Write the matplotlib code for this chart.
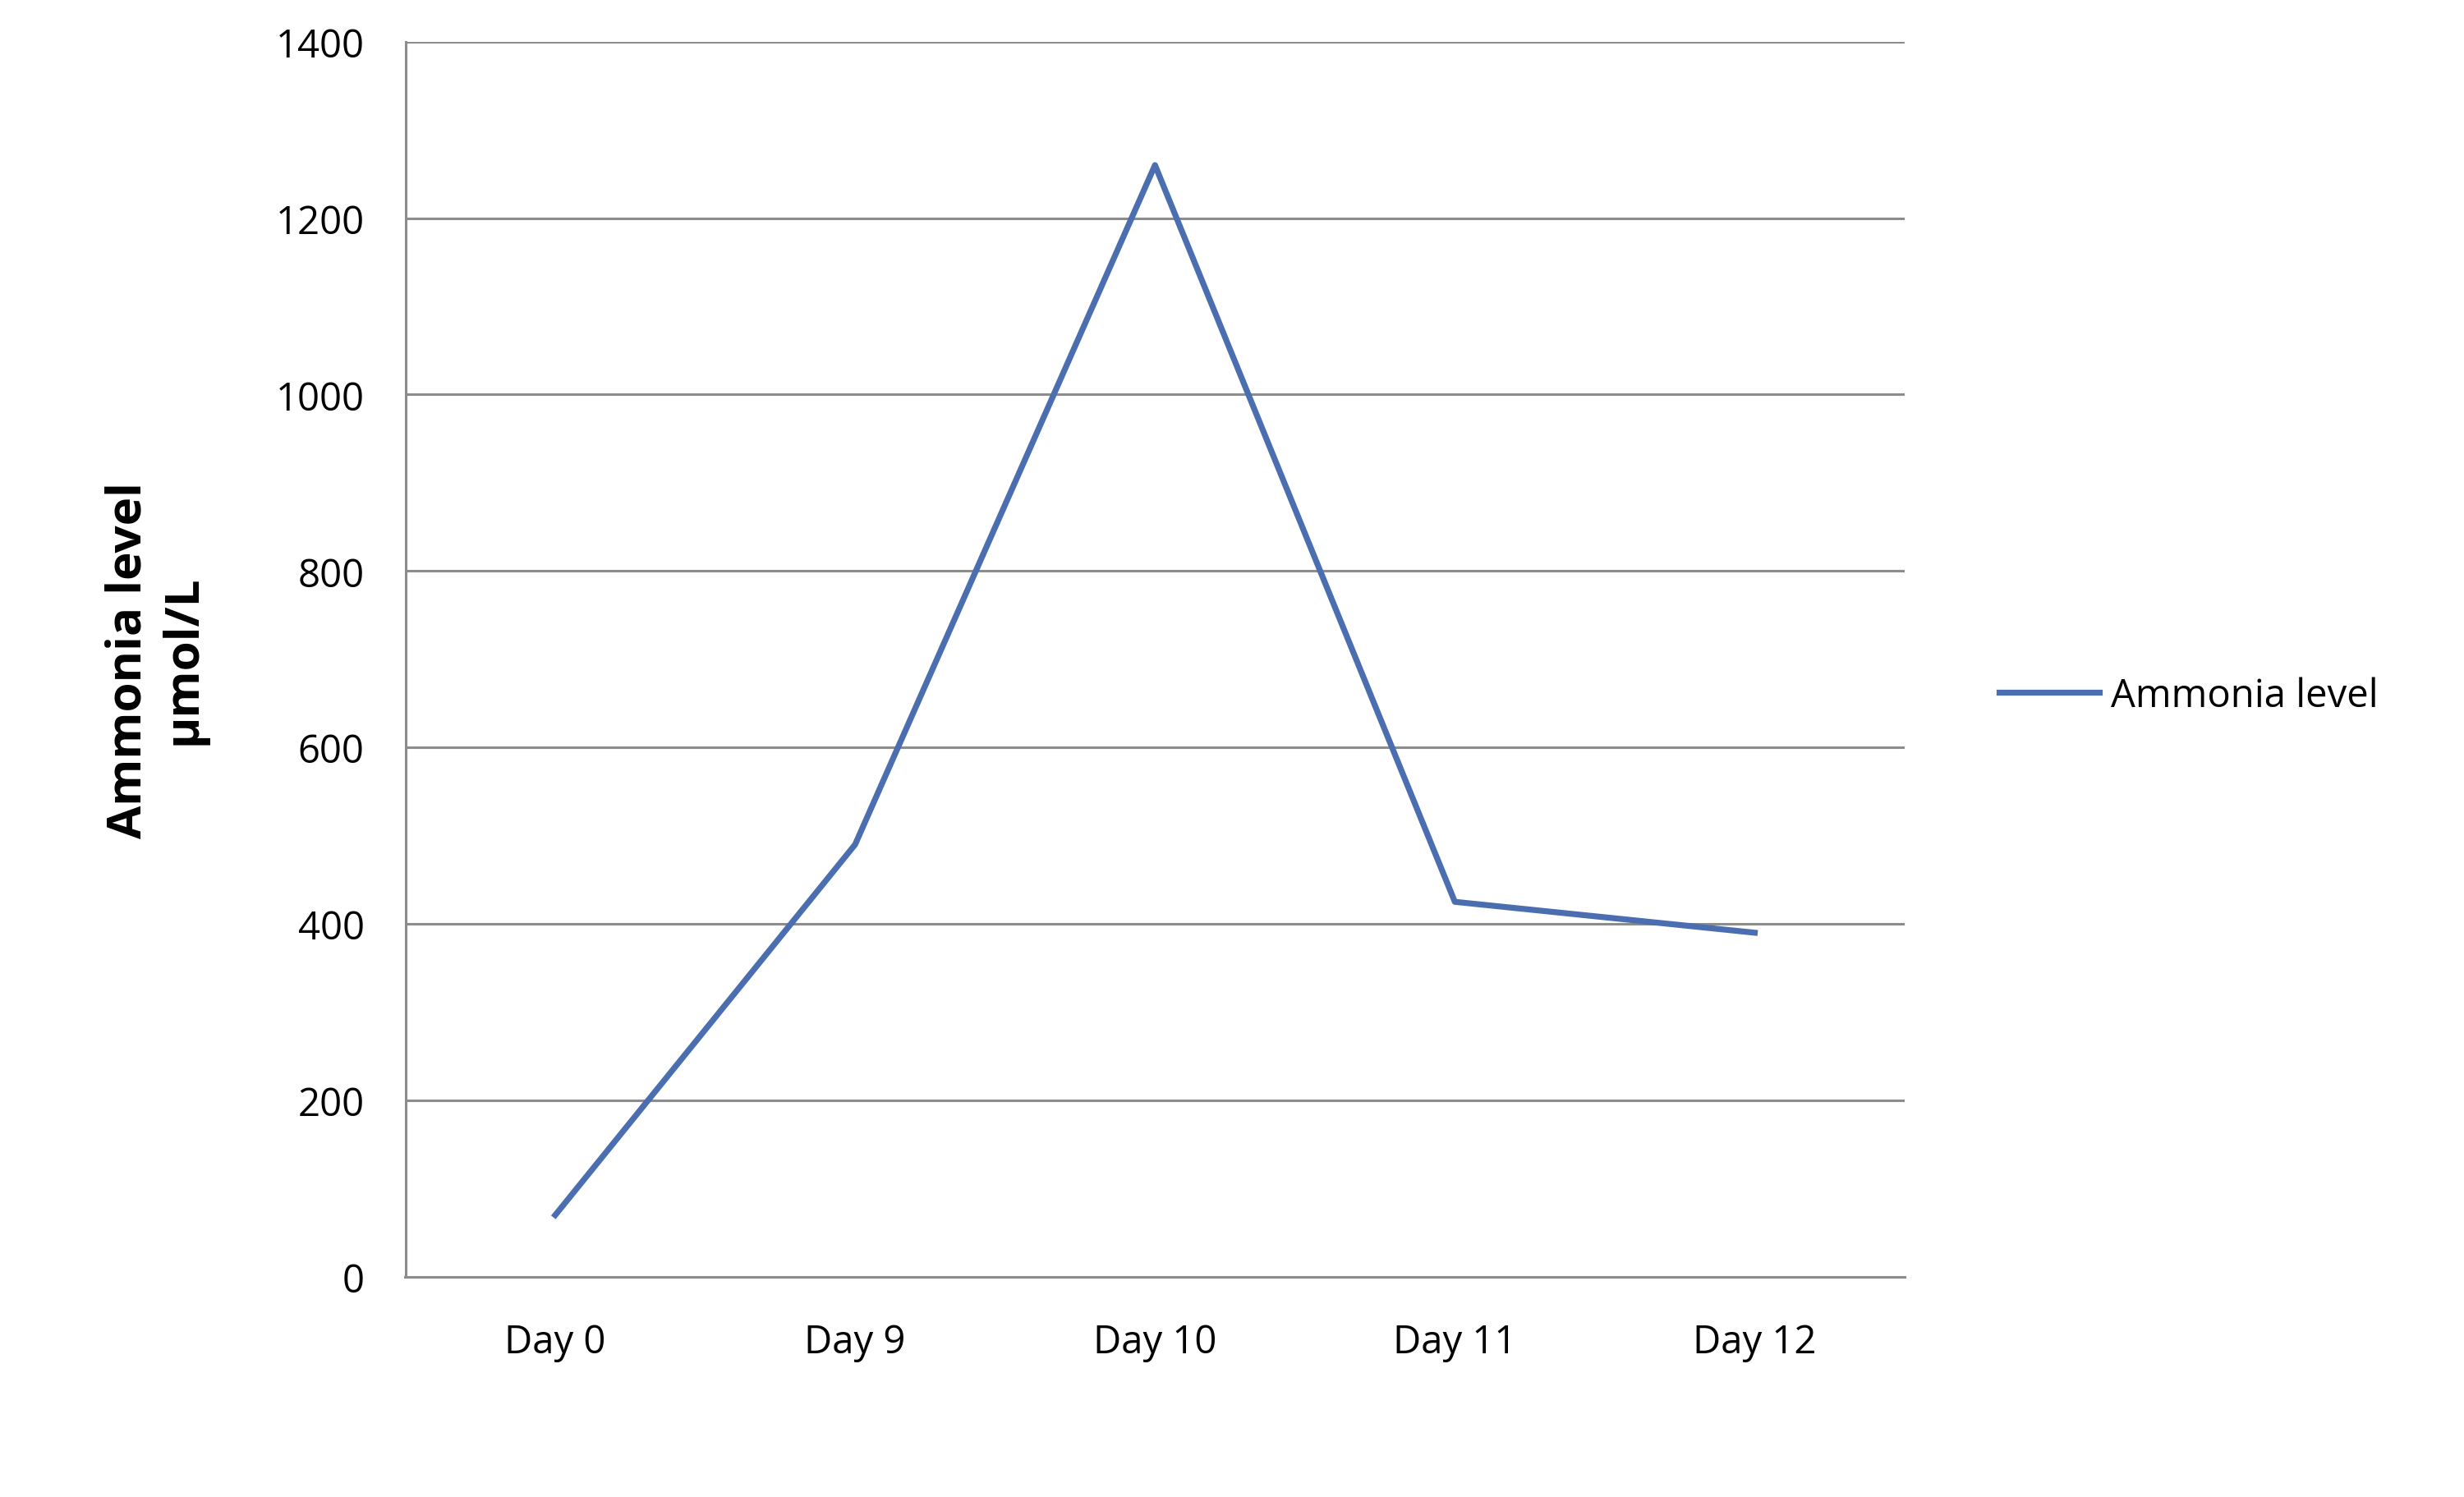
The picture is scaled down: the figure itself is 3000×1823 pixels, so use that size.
import matplotlib
matplotlib.use("Agg")
import matplotlib.pyplot as plt

categories = ["Day 0", "Day 9", "Day 10", "Day 11", "Day 12"]
ammonia = [70, 490, 1260, 425, 390]
yticks = [0, 200, 400, 600, 800, 1000, 1200, 1400]

plt.rcParams['font.family'] = ['Open Sans', 'DejaVu Sans']
fig = plt.figure(figsize=(15, 9.12), dpi=200)
ax = fig.add_axes([0.1645, 0.147, 0.6085, 0.8247])
x = list(range(len(categories)))
line, = ax.plot(x, ammonia, color="#4A6EB0", lw=2.6, label="Ammonia level")
ax.set_xlim(-0.5, len(categories) - 0.5)
ax.set_ylim(0, 1400)
ax.set_yticks(yticks)
ax.set_xticks(x)
ax.set_xticklabels(categories)
ax.tick_params(length=0, labelsize=17, pad=20)
ax.tick_params(axis='y', pad=18)
ax.yaxis.grid(True, color="#8C8C8C", lw=1.1)
ax.set_axisbelow(True)
for s in ["top", "right"]:
    ax.spines[s].set_visible(False)
for s in ["left", "bottom"]:
    ax.spines[s].set_color("#8C8C8C")
    ax.spines[s].set_linewidth(1.1)
ax.set_ylabel("Ammonia level\nµmol/L", fontsize=21, fontweight="bold", labelpad=30)
fig.legend(handles=[line], loc="center left", bbox_to_anchor=(0.797, 0.535),
           frameon=False, fontsize=17, handlelength=2.6, handletextpad=0.3)
fig.savefig("out.png", dpi=200)
